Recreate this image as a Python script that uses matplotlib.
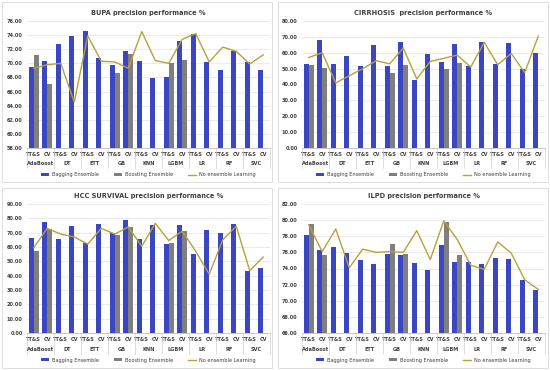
import matplotlib.pyplot as plt
import numpy as np
from matplotlib.patches import Rectangle

models = ['AdaBoost', 'DT', 'ETT', 'GB', 'KNN', 'LGBM', 'LR', 'RF', 'SVC']
splits = ['TT&S', 'CV']
boost_models = ['AdaBoost', 'GB', 'LGBM']

# BUPA
bupa_bag = [69.5, 70.3, 72.7, 73.9, 74.6, 70.7, 69.7, 71.7, 70.4, 67.9,
            68.1, 73.1, 74.2, 70.2, 69.0, 71.8, 70.2, 69.1]
bupa_boost = [71.2, 67.1, 68.6, 71.3, 70.0, 70.5]
bupa_none = [69.3, 69.8, 70.0, 64.5, 73.9, 70.3, 70.2, 69.3, 74.5, 70.4,
             70.0, 73.4, 74.2, 70.2, 72.3, 71.7, 69.9, 71.2]

# CIRRHOSIS
cirr_bag = [52.8, 68.0, 52.8, 58.0, 51.5, 65.0, 51.5, 66.5, 42.8, 59.0,
            54.0, 65.5, 51.5, 67.0, 52.8, 66.0, 50.0, 60.0]
cirr_boost = [52.5, 50.2, 47.5, 52.2, 50.0, 53.5]
cirr_none = [57.0, 60.0, 41.0, 45.5, 50.0, 55.0, 53.0, 63.0, 43.5, 54.5,
             56.5, 58.5, 51.0, 66.5, 52.5, 59.5, 47.5, 70.5]

# HCC SURVIVAL
hcc_bag = [66.5, 77.5, 65.5, 75.0, 62.5, 76.0, 69.5, 78.5, 65.5, 75.5,
           62.0, 75.5, 55.0, 72.0, 69.5, 76.0, 43.5, 45.5]
hcc_boost = [57.5, 72.5, 68.5, 74.0, 63.0, 71.5]
hcc_none = [59.5, 73.0, 69.0, 67.0, 62.0, 73.0, 69.0, 74.0, 60.5, 76.5,
            64.5, 71.0, 57.0, 41.0, 65.0, 74.5, 43.5, 53.0]

# ILPD
ilpd_bag = [78.2, 76.3, 76.7, 75.9, 75.1, 74.6, 75.8, 75.7, 74.7, 73.8,
            76.9, 74.8, 74.8, 74.5, 75.3, 75.2, 72.6, 71.3]
ilpd_boost = [79.5, 75.7, 77.0, 75.8, 79.8, 75.7]
ilpd_none = [79.4, 76.1, 78.9, 74.1, 76.4, 76.0, 76.1, 76.0, 78.7, 75.1,
             79.9, 77.6, 74.4, 73.9, 77.3, 75.9, 72.6, 71.4]

panels = [
    ('BUPA precision performance %', bupa_bag, bupa_boost, bupa_none, 58, 76, 2),
    ('CIRRHOSIS  precision performance %', cirr_bag, cirr_boost, cirr_none, 0, 80, 10),
    ('HCC SURVIVAL precision performance %', hcc_bag, hcc_boost, hcc_none, 0, 90, 10),
    ('ILPD precision performance %', ilpd_bag, ilpd_boost, ilpd_none, 66, 82, 2),
]

BLUE = '#3A46C2'
GREY = '#7F7F7F'
GOLD = '#B8A13C'
TXT = '#404040'
FS = 3.6

fig = plt.figure(figsize=(5.5, 3.7), dpi=100)

# axes rectangles [left, bottom, width, height] in figure fraction
rects = [
    [27 / 550, 1 - 148 / 370, 243 / 550, 127 / 370],
    [302 / 550, 1 - 148 / 370, 243 / 550, 127 / 370],
    [27 / 550, 1 - 333 / 370, 243 / 550, 129 / 370],
    [302 / 550, 1 - 333 / 370, 243 / 550, 129 / 370],
]
frames = [
    [2 / 550, 1 - 182 / 370, 270 / 550, 180 / 370],
    [278 / 550, 1 - 182 / 370, 270 / 550, 180 / 370],
    [2 / 550, 1 - 368 / 370, 270 / 550, 180 / 370],
    [278 / 550, 1 - 368 / 370, 270 / 550, 180 / 370],
]

n = len(models) * 2
x = np.arange(n)
w = 0.36

for (title, bag, boost, none, lo, hi, step), r, fr in zip(panels, rects, frames):
    fig.add_artist(Rectangle((fr[0], fr[1]), fr[2], fr[3], transform=fig.transFigure,
                             facecolor='white', edgecolor='#D9D9D9', lw=0.6, zorder=0))
    ax = fig.add_axes(r)
    ax.set_facecolor('none')
    b1 = ax.bar(x - w / 2, np.array(bag) - lo, w, bottom=lo, color=BLUE, zorder=2,
                label='Bagging Ensemble')
    bx = [2 * models.index(m) + k for m in boost_models for k in range(2)]
    b2 = ax.bar(np.array(bx) + w / 2, np.array(boost) - lo, w, bottom=lo, color=GREY,
                zorder=2, label='Boosting Ensemble')
    l1, = ax.plot(x, none, color=GOLD, lw=1.0, zorder=3, label='No ensemble Learning')
    ax.set_xlim(-0.5, n - 0.5)
    ax.set_ylim(lo, hi)
    ax.set_yticks(np.arange(lo, hi + 0.01, step))
    ax.set_yticklabels(['%.2f' % v for v in np.arange(lo, hi + 0.01, step)],
                       fontsize=FS, color=TXT, fontweight='bold')
    ax.yaxis.grid(True, color='#E3E3E3', lw=0.5, zorder=0)
    ax.set_axisbelow(True)
    for s in ['top', 'right', 'left']:
        ax.spines[s].set_visible(False)
    ax.spines['bottom'].set_color('#BFBFBF')
    ax.spines['bottom'].set_linewidth(0.6)
    ax.tick_params(axis='y', length=0, pad=3)
    ax.set_xticks(x)
    ax.set_xticklabels(splits * len(models), fontsize=FS, color=TXT, fontweight='bold')
    ax.tick_params(axis='x', length=0, pad=3)
    trans = ax.get_xaxis_transform()
    for i, m in enumerate(models):
        ax.text(2 * i + 0.5, -0.125, m, transform=trans, ha='center', va='center',
                fontsize=FS, color=TXT, fontweight='bold')
    for gx in np.arange(-0.5, n, 2):
        ax.plot([gx, gx], [0, -0.16], transform=trans, color='#D0D0D0', lw=0.5,
                clip_on=False)
    ax.set_title(title, fontsize=4.8, color=TXT, fontweight='bold', pad=4)
    ax.legend(handles=[b1, b2, l1], loc='upper center', bbox_to_anchor=(0.5, -0.175),
              ncol=3, fontsize=FS, frameon=False, handlelength=1.6, handleheight=0.6,
              columnspacing=3.0, handletextpad=0.6, borderaxespad=0)
    for t in ax.get_legend().get_texts():
        t.set_color(TXT)

fig.savefig('out.png', dpi=100)
